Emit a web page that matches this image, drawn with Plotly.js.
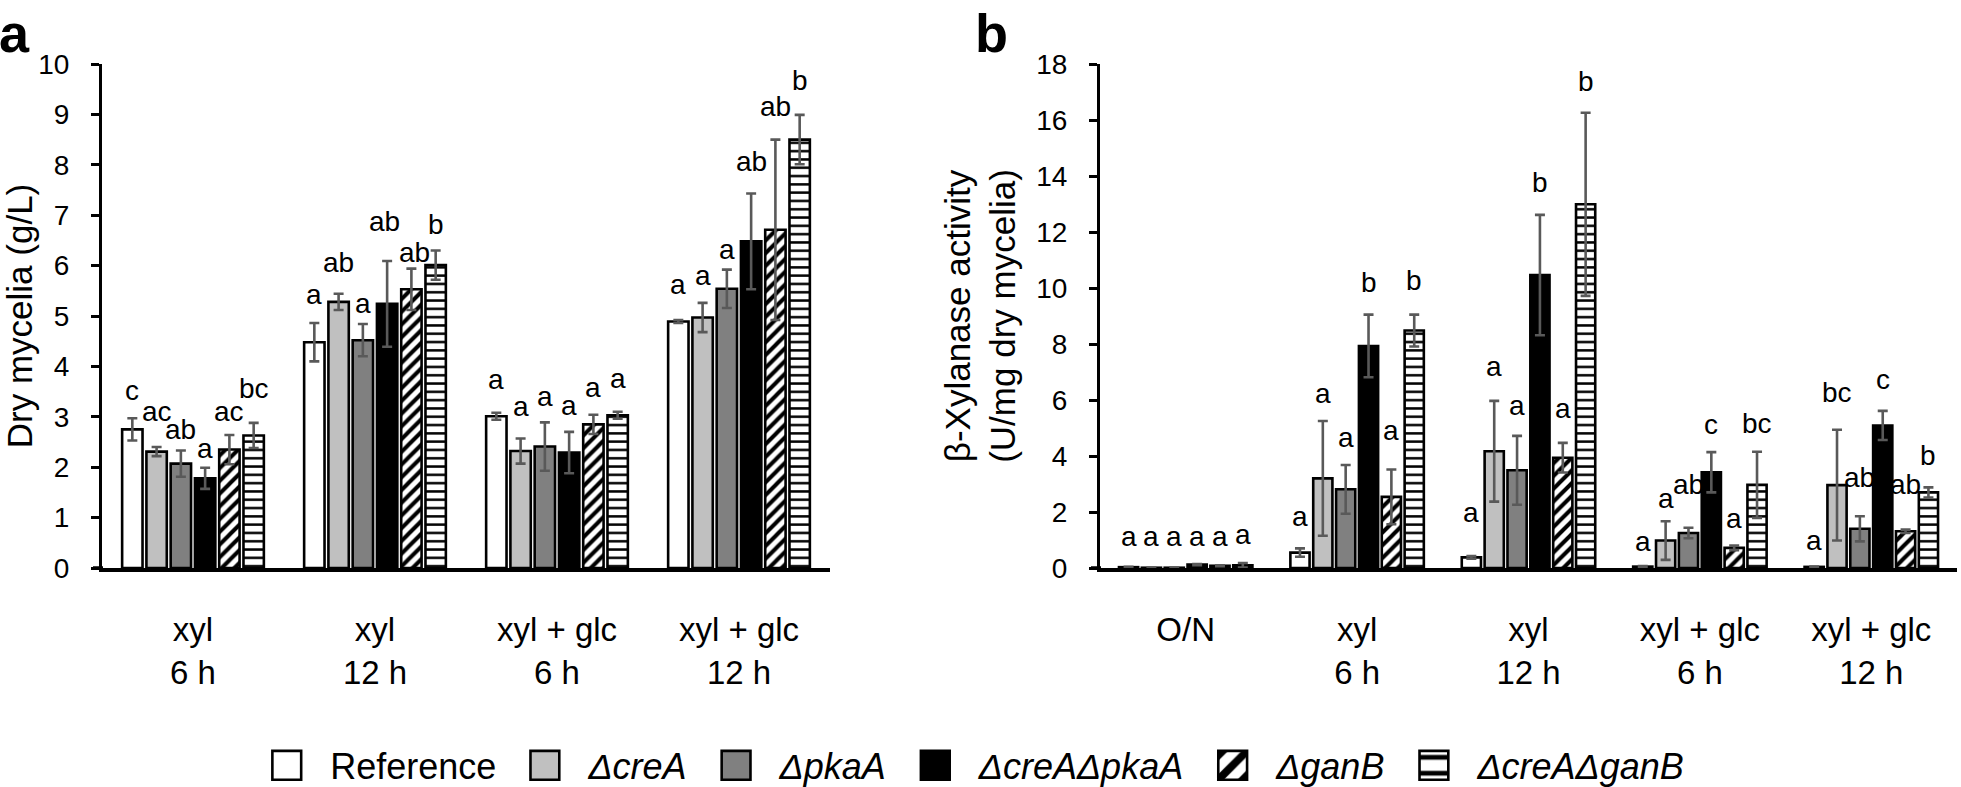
<!DOCTYPE html>
<html>
<head>
<meta charset="utf-8">
<script src="https://cdn.plot.ly/plotly-3.0.1.min.js"></script>
<style>
  html, body { margin: 0; padding: 0; background: #fff; }
  #chart { width: 1961px; height: 787px; }
</style>
</head>
<body>
<div id="chart"></div>
<script>
// ---------------- data ----------------
const strainNames = ["Reference", "<i>ΔcreA</i>", "<i>ΔpkaA</i>", "<i>ΔcreAΔpkaA</i>", "<i>ΔganB</i>", "<i>ΔcreAΔganB</i>"];

// Panel a: dry mycelia (g/L)
const groupsA = ["xyl<br>6 h", "xyl<br>12 h", "xyl + glc<br>6 h", "xyl + glc<br>12 h"];
const dryRef        = [2.75, 4.48, 3.01, 4.89];
const dryCreA       = [2.31, 5.28, 2.32, 4.97];
const dryPkaA       = [2.07, 4.52, 2.41, 5.54];
const dryCreAPkaA   = [1.78, 5.24, 2.29, 6.48];
const dryGanB       = [2.35, 5.53, 2.85, 6.71];
const dryCreAGanB   = [2.63, 6.01, 3.03, 8.50];
const dryRefErr      = [0.22, 0.38, 0.07, 0.03];
const dryCreAErr     = [0.09, 0.16, 0.25, 0.29];
const dryPkaAErr     = [0.26, 0.32, 0.48, 0.38];
const dryCreAPkaAErr = [0.21, 0.85, 0.41, 0.95];
const dryGanBErr     = [0.29, 0.41, 0.19, 1.79];
const dryCreAGanBErr = [0.25, 0.29, 0.07, 0.49];
const dryRefSig      = ["c", "a", "a", "a"];
const dryCreASig     = ["ac", "ab", "a", "a"];
const dryPkaASig     = ["ab", "a", "a", "a"];
const dryCreAPkaASig = ["a", "ab", "a", "ab"];
const dryGanBSig     = ["ac", "ab", "a", "ab"];
const dryCreAGanBSig = ["bc", "b", "a", "b"];

// Panel b: beta-xylanase activity (U/mg dry mycelia)
const groupsB = ["O/N", "xyl<br>6 h", "xyl<br>12 h", "xyl + glc<br>6 h", "xyl + glc<br>12 h"];
const xylRef        = [0.03, 0.55, 0.38, 0.05, 0.04];
const xylCreA       = [0.01, 3.20, 4.17, 0.98, 2.96];
const xylPkaA       = [0.01, 2.81, 3.49, 1.25, 1.40];
const xylCreAPkaA   = [0.12, 7.93, 10.46, 3.42, 5.09];
const xylGanB       = [0.08, 2.54, 3.94, 0.72, 1.31];
const xylCreAGanB   = [0.10, 8.48, 12.99, 2.97, 2.70];
const xylRefErr      = [0.01, 0.15, 0.05, 0.02, 0.01];
const xylCreAErr     = [0.005, 2.05, 1.80, 0.69, 1.98];
const xylPkaAErr     = [0.005, 0.87, 1.23, 0.19, 0.45];
const xylCreAPkaAErr = [0.02, 1.12, 2.15, 0.72, 0.52];
const xylGanBErr     = [0.02, 0.98, 0.53, 0.08, 0.06];
const xylCreAGanBErr = [0.08, 0.57, 3.27, 1.18, 0.18];
const xylRefSig      = ["a", "a", "a", "a", "a"];
const xylCreASig     = ["a", "a", "a", "a", "bc"];
const xylPkaASig     = ["a", "a", "a", "ab", "ab"];
const xylCreAPkaASig = ["a", "b", "b", "c", "c"];
const xylGanBSig     = ["a", "a", "a", "a", "ab"];
const xylCreAGanBSig = ["a", "b", "b", "bc", "b"];

// ---------------- styling (positions/sizes of labels, not data) ----------------
// pixel lift of each significance letter above its error-bar top
const liftA = [
  [28, 29, 33, 36],
  [36, 31, 32, 27],
  [21, 21, 26, 20],
  [19, 40, 26, 32],
  [23, 16, 27, 33],
  [34, 26, 33, 34]
];
// small horizontal nudges (px) for crowded letters
const nudgeA = [
  [0, 0, 0, 0],
  [0, 0, 0, 0],
  [0, 0, 0, 0],
  [0, -3, 0, 0],
  [0, 3, 0, 0],
  [0, 0, 0, 0]
];
const liftB = [
  [30, 32, 43, 25, 26],
  [31, 28, 34, 23, 37],
  [31, 27, 30, 43, 39],
  [28, 32, 32, 28, 31],
  [29, 39, 34, 27, 45],
  [28, 34, 31, 28, 32]
];
const nudgeB = liftB.map(r => r.map(() => 0));

const FONT = "Liberation Sans, Arial, Helvetica, sans-serif";
const BARGAP = 0.2, BARGROUPGAP = 0.16;
const fills = [
  { color: "#ffffff" },
  { color: "#c0c0c0" },
  { color: "#808080" },
  { color: "#000000" },
  { color: "#ffffff", pattern: { shape: "/", fgcolor: "#000000", bgcolor: "#ffffff", size: 9, solidity: 0.45 } },
  { color: "#ffffff", pattern: { shape: "-", fgcolor: "#000000", bgcolor: "#ffffff", size: 8.3, solidity: 0.3 } }
];

const seriesA = [dryRef, dryCreA, dryPkaA, dryCreAPkaA, dryGanB, dryCreAGanB];
const errA = [dryRefErr, dryCreAErr, dryPkaAErr, dryCreAPkaAErr, dryGanBErr, dryCreAGanBErr];
const sigA = [dryRefSig, dryCreASig, dryPkaASig, dryCreAPkaASig, dryGanBSig, dryCreAGanBSig];
const seriesB = [xylRef, xylCreA, xylPkaA, xylCreAPkaA, xylGanB, xylCreAGanB];
const errB = [xylRefErr, xylCreAErr, xylPkaAErr, xylCreAPkaAErr, xylGanBErr, xylCreAGanBErr];
const sigB = [xylRefSig, xylCreASig, xylPkaASig, xylCreAPkaASig, xylGanBSig, xylCreAGanBSig];

const nS = strainNames.length;
const slot = (1 - BARGAP) / nS;

function makeTraces(series, errs, xa, ya, showLegend) {
  return series.map((vals, s) => {
    const marker = { color: fills[s].color, line: { color: "#000000", width: 2.6 } };
    if (fills[s].pattern) marker.pattern = Object.assign({ fillmode: "replace" }, fills[s].pattern);
    return {
      type: "bar",
      name: strainNames[s],
      legendgroup: "s" + s,
      showlegend: showLegend,
      x: vals.map((_, g) => g),
      y: vals,
      xaxis: xa, yaxis: ya,
      marker: marker,
      error_y: { type: "data", array: errs[s], visible: true, color: "#595959", thickness: 2.6, width: 5 },
      hoverinfo: "y+name"
    };
  });
}

function makeLetters(series, errs, sigs, lifts, nudges, xa, ya) {
  const out = [];
  series.forEach((vals, s) => {
    vals.forEach((v, g) => {
      out.push({
        xref: xa, yref: ya,
        x: g + (s - (nS - 1) / 2) * slot,
        y: v + errs[s][g],
        yshift: lifts[s][g],
        xshift: nudges[s][g],
        yanchor: "middle", xanchor: "center",
        text: sigs[s][g], showarrow: false,
        font: { family: FONT, size: 28, color: "#000000" }
      });
    });
  });
  return out;
}

const traces = [].concat(
  makeTraces(seriesA, errA, "x", "y", true),
  makeTraces(seriesB, errB, "x2", "y2", false)
);

const W = 1961, H = 787;
const plotTop = 63.5, plotBottom = 568.3;
const plotH = plotBottom - plotTop;

const yaxisCommon = {
  showgrid: false, zeroline: false, showline: true,
  linecolor: "#000000", linewidth: 3,
  ticks: "outside", ticklen: 8, tickwidth: 2.6, tickcolor: "#000000",
  tickfont: { family: FONT, size: 28, color: "#000000" },
  ticklabelstandoff: 16,
  automargin: false, fixedrange: true
};
const xaxisCommon = {
  showgrid: false, zeroline: false, showline: true,
  linecolor: "#000000", linewidth: 3.5,
  ticks: "", tickfont: { family: FONT, size: 33, color: "#000000" },
  ticklabelstandoff: 30,
  automargin: false, fixedrange: true
};

const layout = {
  width: W, height: H,
  margin: { l: 0, r: 0, t: plotTop, b: H - plotBottom, autoexpand: false },
  paper_bgcolor: "#ffffff", plot_bgcolor: "rgba(0,0,0,0)",
  font: { family: FONT, color: "#000000" },
  barmode: "group", bargap: BARGAP, bargroupgap: BARGROUPGAP,
  showlegend: true,
  legend: {
    orientation: "h", x: 0.493, xanchor: "center", y: (plotBottom - 766) / plotH, yanchor: "middle",
    font: { family: FONT, size: 36, color: "#000000" },
    itemwidth: 77, traceorder: "normal", bgcolor: "rgba(0,0,0,0)"
  },
  xaxis: Object.assign({}, xaxisCommon, {
    domain: [102 / W, 830 / W], anchor: "y",
    range: [-0.5, groupsA.length - 0.5],
    tickmode: "array", tickvals: groupsA.map((_, i) => i), ticktext: groupsA
  }),
  yaxis: Object.assign({}, yaxisCommon, {
    anchor: "x", range: [0, 10], dtick: 1, tick0: 0,
    title: { text: "Dry mycelia (g/L)", font: { family: FONT, size: 35, color: "#000000" }, standoff: 10 }
  }),
  xaxis2: Object.assign({}, xaxisCommon, {
    domain: [1100 / W, 1957 / W], anchor: "y2",
    range: [-0.5, groupsB.length - 0.5],
    tickmode: "array", tickvals: groupsB.map((_, i) => i), ticktext: groupsB
  }),
  yaxis2: Object.assign({}, yaxisCommon, {
    anchor: "x2", range: [0, 18], dtick: 2, tick0: 0,
    title: { text: "β-Xylanase activity<br>(U/mg dry mycelia)", font: { family: FONT, size: 35, color: "#000000" }, standoff: 10 }
  }),
  shapes: [
    // x-axis baselines continue left under the y-axis ticks
    { type: "line", xref: "paper", yref: "y", x0: 93 / W, x1: 103 / W, y0: 0, y1: 0, line: { color: "#000000", width: 3.5 } },
    { type: "line", xref: "paper", yref: "y2", x0: 1091 / W, x1: 1101 / W, y0: 0, y1: 0, line: { color: "#000000", width: 3.5 } }
  ],
  annotations: [].concat(
    makeLetters(seriesA, errA, sigA, liftA, nudgeA, "x", "y"),
    makeLetters(seriesB, errB, sigB, liftB, nudgeB, "x2", "y2"),
    [
      { xref: "paper", yref: "paper", x: -2 / W, y: (plotBottom - 1) / plotH, xanchor: "left", yanchor: "top",
        text: "<b>a</b>", showarrow: false, borderpad: 0, font: { family: FONT, size: 54, color: "#000000" } },
      { xref: "paper", yref: "paper", x: 974 / W, y: (plotBottom - 1) / plotH, xanchor: "left", yanchor: "top",
        text: "<b>b</b>", showarrow: false, borderpad: 0, font: { family: FONT, size: 54, color: "#000000" } }
    ]
  )
};

Plotly.newPlot("chart", traces, layout, { displayModeBar: false }).then(function () {
  // enlarge legend swatches to match the reference box size
  document.querySelectorAll(".legend .legendpoints path").forEach(function (p) {
    const t = p.getAttribute("transform") || "";
    p.setAttribute("transform", t + " scale(2.4)");
    p.style.vectorEffect = "non-scaling-stroke";
    p.style.strokeWidth = "2.6px";
    p.style.stroke = "#000000";
  });
});
</script>
</body>
</html>
